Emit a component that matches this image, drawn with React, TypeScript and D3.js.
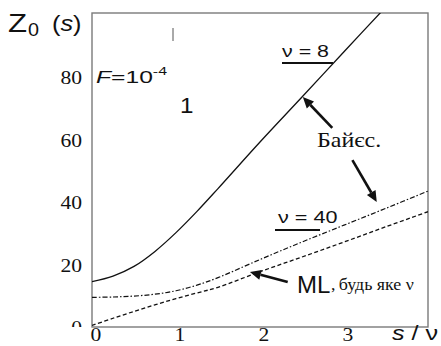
import React from "react";
import * as d3 from "d3";

// s / ν grid and curve values
const sGrid = [0, 0.25, 0.5, 0.75, 1, 1.25, 1.5, 2, 2.5, 3, 3.5, 4];
const bayes8 = [14.5, 16.3, 19.4, 24.2, 30.2, 37.0, 44.3, 59.2, 73.6, 88.1, 102.5, null];
const bayes40 = [9.5, 9.6, 9.9, 10.5, 11.6, 13.4, 15.8, 21.6, 27.2, 32.6, 38.0, 43.5];
const mlAll = [0.5, 2.8, 5.0, 7.1, 9.1, 10.9, 12.7, 17.7, 22.4, 27.2, 32.1, 36.9];

const xTicks = [0, 1, 2, 3];
const yTicks = [0, 20, 40, 60, 80];

// arrows: [tailS, tailZ, tipS, tipZ]
const arrows = [
  [2.86, 63.7, 2.51, 73.6],
  [3.1, 53.4, 3.39, 40.0],
  [2.33, 14.4, 1.88, 17.6],
];

const W = 441;
const H = 346;
const left = 92, right = 428, top = 13, bottom = 327;

const serif = "'Liberation Serif', 'Times New Roman', serif";
const sans = "'Liberation Sans', Arial, sans-serif";
const ink = "#111";

// the scanned figure has its lettering stretched sideways
function SText({ x, y, sx = 1.2, children, ...rest }: any) {
  return (
    <g transform={`translate(${x},${y}) scale(${sx},1)`}>
      <text x={0} y={0} fill={ink} {...rest}>{children}</text>
    </g>
  );
}

export default function App() {
  const x = d3.scaleLinear().domain([0, 4]).range([left, right]);
  const y = d3.scaleLinear().domain([0, 100.5]).range([bottom, top]);

  const makeLine = (vals: (number | null)[]) =>
    d3.line<number>()
      .defined((_, i) => vals[i] != null)
      .x(d => x(d))
      .y((_, i) => y(vals[i] as number))
      .curve(d3.curveCatmullRom.alpha(0.5))(sGrid) || "";

  const arrowPath = (a: number[]) => {
    const x1 = x(a[0]), y1 = y(a[1]), x2 = x(a[2]), y2 = y(a[3]);
    const ang = Math.atan2(y2 - y1, x2 - x1);
    const L = 11, Wd = 5;
    const bx = x2 - L * Math.cos(ang), by = y2 - L * Math.sin(ang);
    const px = -Math.sin(ang) * Wd, py = Math.cos(ang) * Wd;
    return {
      line: [x1, y1, bx, by],
      head: `M${x2},${y2}L${bx + px},${by + py}L${bx - px},${by - py}Z`,
    };
  };

  return (
    <svg width={W} height={H} style={{ position: "absolute", left: 0, top: 0, background: "#fff" }}>
      <defs>
        <clipPath id="plot">
          <rect x={left} y={top} width={right - left} height={bottom - top} />
        </clipPath>
        {/* the "0" on the y axis is cut off in the original */}
        <clipPath id="zeroclip">
          <rect x={-100} y={-100} width={200} height={93} />
        </clipPath>
      </defs>

      {/* frame */}
      <rect x={left} y={top} width={right - left} height={bottom - top}
        fill="none" stroke="#7a7a7a" strokeWidth={1.4} />

      {/* y tick labels */}
      {yTicks.map(t => (
        <SText key={t} x={82} y={y(t) + 7} textAnchor="end" fontFamily={serif}
          fontSize={18} clipPath={t === 0 ? "url(#zeroclip)" : undefined}>{t}</SText>
      ))}

      {/* x tick labels */}
      {xTicks.map(t => (
        <SText key={t} x={x(t) + 4} y={341} textAnchor="middle" fontFamily={serif}
          fontSize={18}>{t}</SText>
      ))}

      {/* curves */}
      <g clipPath="url(#plot)" fill="none" stroke={ink}>
        <path d={makeLine(bayes8)} strokeWidth={1.3} />
        <path d={makeLine(bayes40)} strokeWidth={1.2} strokeDasharray="5,2,1.5,2" />
        <path d={makeLine(mlAll)} strokeWidth={1.3} strokeDasharray="4,2.5" />
      </g>

      {/* arrows */}
      {arrows.map((a, i) => {
        const p = arrowPath(a);
        return (
          <g key={i}>
            <line x1={p.line[0]} y1={p.line[1]} x2={p.line[2]} y2={p.line[3]}
              stroke={ink} strokeWidth={2.6} />
            <path d={p.head} fill={ink} />
          </g>
        );
      })}

      {/* axis titles */}
      <SText x={8} y={32} sx={1.2} fontFamily={sans} fontSize={26}>Z</SText>
      <SText x={28} y={36} sx={1.1} fontFamily={sans} fontSize={18}>0</SText>
      <SText x={52} y={31} sx={1.15} fontFamily={sans} fontSize={22}>
        (<tspan fontStyle="italic">s</tspan>)
      </SText>
      <SText x={392} y={340} sx={1.2} fontFamily={sans} fontSize={21}>
        <tspan fontStyle="italic">s</tspan> / ν
      </SText>

      {/* annotations */}
      <SText x={96} y={83} sx={1.45} fontFamily={sans} fontSize={17}>
        <tspan fontStyle="italic">F</tspan>=10
        <tspan dy={-8} fontSize={11}>-4</tspan>
      </SText>
      <line x1={173} y1={28} x2={173} y2={41} stroke="#555" strokeWidth={1} />
      <SText x={180} y={113} sx={1.1} fontFamily={sans} fontSize={22}>1</SText>

      <SText x={282} y={57} sx={1.26} fontFamily={sans} fontSize={17}>ν = 8</SText>
      <line x1={282} y1={63} x2={333} y2={63} stroke={ink} strokeWidth={2} />

      <SText x={317} y={147} sx={1.2} fontFamily={serif} fontSize={20}>Байєс.</SText>

      <SText x={278} y={223} sx={1.27} fontFamily={sans} fontSize={17}>ν = 40</SText>
      <line x1={275} y1={230} x2={320} y2={230} stroke={ink} strokeWidth={2} />

      <SText x={297} y={293} sx={1} fontFamily={sans} fontSize={24}>ML</SText>
      <SText x={331} y={290} sx={1.12} fontFamily={serif} fontSize={16}>,<tspan dx={3}>будь яке ν</tspan></SText>
    </svg>
  );
}
